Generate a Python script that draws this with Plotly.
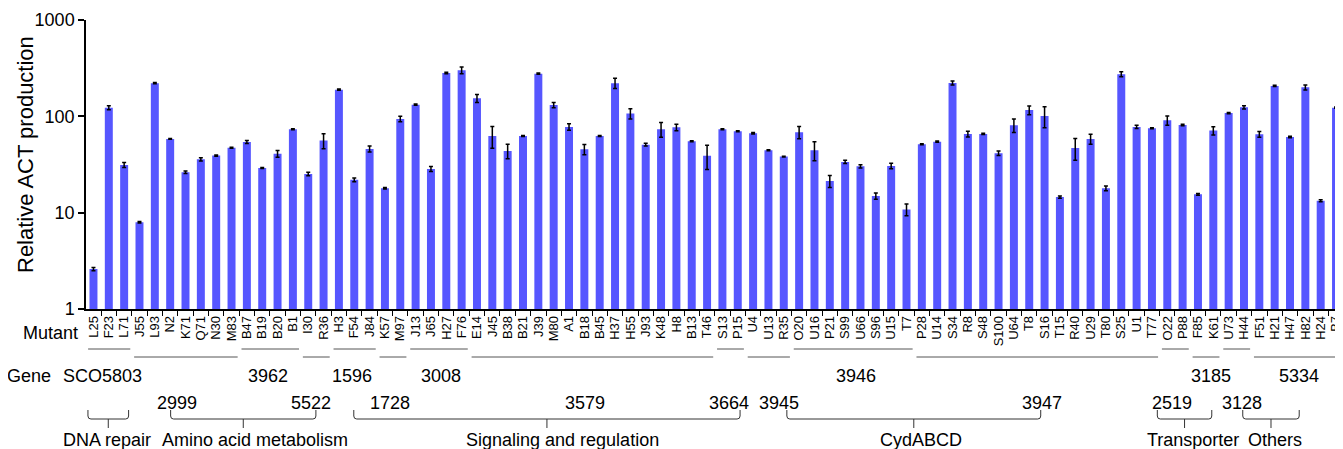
import plotly.graph_objects as go

# ---------------- data ----------------
mutants = ["L25", "F23", "L71", "J55", "L93", "N2", "K71", "Q71", "N30", "M83",
           "B47", "B19", "B20", "B1", "I30", "R36", "H3", "F54", "J84", "K57",
           "M97", "J13", "J65", "H27", "F76", "E14", "J45", "B38", "B21", "J39",
           "M80", "A1", "B18", "B45", "H37", "H55", "J93", "K48", "H8", "B13",
           "T46", "S13", "P15", "U4", "U13", "R35", "O20", "U16", "P21", "S99",
           "U66", "S96", "U15", "T7", "P28", "U14", "S34", "R8", "S48", "S100",
           "U64", "T8", "S16", "T15", "R40", "U29", "T80", "S25", "U1", "T77",
           "O22", "P88", "F85", "K61", "U73", "H44", "F51", "H21", "H47", "H82",
           "H24", "B7"]

production = [2.6, 123, 31.3, 7.95, 221, 58.3, 26.3, 35.8, 39.1, 47.3,
              54.2, 29.1, 41, 73.5, 25.2, 56, 189, 21.9, 45.9, 17.9,
              94, 132, 28.4, 282, 301, 154, 62.6, 43.7, 62.6, 277,
              131, 77.6, 45.5, 62.6, 221, 107, 50.8, 73.5, 77, 55.1,
              39, 73.5, 70, 66.7, 44.5, 38.2, 68.4, 44.5, 21.3, 33.6,
              30.3, 14.9, 30.5, 10.8, 51.3, 54.6, 222, 65.6, 65.6, 41.4,
              80.9, 116, 101, 14.5, 47, 58.3, 17.9, 274, 77.6, 75.2,
              91, 81.4, 15.5, 71.1, 108, 124, 65.2, 207, 61.1, 200,
              13.3, 123]

production_err = [0.1, 6, 1.8, 0.15, 3, 0.5, 0.8, 1.4, 0.6, 0.6,
                  2, 0.3, 3.3, 1, 1.1, 10, 3, 1, 3.3, 0.3,
                  6, 2, 1.7, 5, 24, 15, 16, 7.5, 0.8, 4,
                  8, 6, 5.5, 0.8, 27, 13, 1.6, 13, 6, 0.6,
                  11, 1, 1, 1.2, 0.5, 0.4, 10, 10, 3, 1.3,
                  1.2, 1.1, 2, 1.5, 0.6, 0.8, 10, 4.5, 1, 2.2,
                  13, 12, 25, 0.4, 12, 7, 1, 17, 3, 1,
                  10, 1.5, 0.3, 7, 1.5, 5, 4.5, 3, 1, 12,
                  0.3, 2]

genes = ["SCO5803", "2999", "3962", "5522", "1596", "1728", "3008", "3579",
         "3664", "3945", "3946", "3947", "2519", "3185", "3128", "5334"]
gene_first = ["L25", "J55", "B47", "I30", "H3", "K57", "J13", "E14",
              "S13", "U4", "O20", "P28", "O22", "F85", "U73", "F51"]
gene_last = ["L71", "M83", "B1", "R36", "J84", "M97", "F76", "T46",
             "P15", "R35", "T7", "T77", "P88", "K61", "H44", "B7"]
gene_label_row = [0, 1, 0, 1, 0, 1, 0, 1, 1, 1, 0, 1, 1, 0, 1, 0]

categories = ["DNA repair", "Amino acid metabolism", "Signaling and regulation",
              "CydABCD", "Transporter", "Others"]

# ---------------- layout constants ----------------
FONT = "Liberation Sans, Arial, sans-serif"
PAGE_OFF = 8                      # default page body margin
W, H = 1343, 449                  # window size
ML, MT, MB = 86, 20, 140          # plot-area placement within the window
X_RANGE = [-0.487, 81.063]
PLOT_H = H - MT - MB
PLOT_W = W - ML

# label nudges (pixels) so the texts sit as in the original figure
GENE_LABEL_SHIFT = [-6, -9, -2, -5, -2, -3, 2, -7, -1, 11, 3, 5, -3, 5, 6, 1]
# bracket spans (in category-index units) for the functional categories
BRACKET_SPANS = [(-0.36, 2.29), (5.03, 14.5), (16.97, 42.15),
                 (45.2, 61.75), (69.35, 72.9), (74.92, 78.6)]
CATEGORY_LABEL_SHIFT = [-1, 12, 16, 7, 8, 4]


def px_to_paper_y(py):
    return (H - MB - py) / PLOT_H


def idx_to_paper_x(i):
    return (i - X_RANGE[0]) / (X_RANGE[1] - X_RANGE[0])


fig = go.Figure()
fig.add_trace(go.Bar(
    x=mutants, y=production,
    marker=dict(color="rgb(86,86,255)", line=dict(width=0)),
    width=0.52,
    error_y=dict(type="data", array=production_err, visible=True,
                 color="black", thickness=1.5, width=2),
))

shapes = []
annotations = []

# gene group lines + gene labels
line_y = [px_to_paper_y(349), px_to_paper_y(357)]
label_y = [px_to_paper_y(376), px_to_paper_y(403)]
for k, g in enumerate(genes):
    i0 = mutants.index(gene_first[k])
    i1 = mutants.index(gene_last[k])
    ly = line_y[k % 2]
    shapes.append(dict(type="line", xref="paper", yref="paper",
                       x0=idx_to_paper_x(i0 - 0.35), x1=idx_to_paper_x(i1 + 0.4),
                       y0=ly, y1=ly, line=dict(color="#555555", width=1)))
    annotations.append(dict(xref="x", yref="paper", x=(i0 + i1) / 2,
                            xshift=GENE_LABEL_SHIFT[k],
                            y=label_y[gene_label_row[k]], text=g, showarrow=False,
                            xanchor="center", yanchor="middle",
                            font=dict(size=18, color="black", family=FONT)))

# category brackets (with slightly rounded corners)
yb0, yb1, yb2 = px_to_paper_y(410), px_to_paper_y(419), px_to_paper_y(428)
rx = 3 / PLOT_W * 1.0
ry = 3 / PLOT_H
for k, (name, (a, b)) in enumerate(zip(categories, BRACKET_SPANS)):
    xa, xb = idx_to_paper_x(a), idx_to_paper_x(b)
    xc = (xa + xb) / 2
    path = (f"M {xa},{yb0} L {xa},{yb1 + ry} Q {xa},{yb1} {xa + rx},{yb1} "
            f"L {xb - rx},{yb1} Q {xb},{yb1} {xb},{yb1 + ry} L {xb},{yb0} "
            f"M {xc},{yb1} L {xc},{yb2}")
    shapes.append(dict(type="path", xref="paper", yref="paper", path=path,
                       line=dict(color="#333333", width=1)))
    annotations.append(dict(xref="paper", yref="paper", x=xc,
                            xshift=CATEGORY_LABEL_SHIFT[k],
                            y=px_to_paper_y(440), text=name, showarrow=False,
                            xanchor="center", yanchor="middle",
                            font=dict(size=18, color="black", family=FONT)))

# row headers
annotations.append(dict(xref="paper", yref="paper", x=0, xshift=-6,
                        y=px_to_paper_y(333), text="Mutant", showarrow=False,
                        xanchor="right", yanchor="middle",
                        font=dict(size=18, color="black", family=FONT)))
annotations.append(dict(xref="paper", yref="paper", x=0, xshift=-33,
                        y=px_to_paper_y(376), text="Gene", showarrow=False,
                        xanchor="right", yanchor="middle",
                        font=dict(size=18, color="black", family=FONT)))
# y axis title
annotations.append(dict(xref="paper", yref="paper", x=0, xshift=-61,
                        y=px_to_paper_y(155), text="Relative ACT production",
                        textangle=-90, showarrow=False,
                        xanchor="center", yanchor="middle",
                        font=dict(size=22, color="black", family=FONT)))

fig.update_layout(
    width=W - PAGE_OFF, height=H - PAGE_OFF,
    margin=dict(l=ML - PAGE_OFF, r=0, t=MT - PAGE_OFF, b=MB, pad=0),
    paper_bgcolor="white", plot_bgcolor="white",
    showlegend=False,
    font=dict(family=FONT, color="black"),
    shapes=shapes, annotations=annotations,
)
fig.update_xaxes(
    type="category", range=X_RANGE,
    tickmode="array", tickvals=mutants, ticktext=mutants,
    showline=True, linecolor="black", linewidth=1.5,
    ticks="outside", tickson="boundaries", ticklen=5, tickwidth=1,
    tickcolor="black", tickangle=-90,
    tickfont=dict(size=13, color="black", family=FONT),
    showgrid=False, zeroline=False,
)
fig.update_yaxes(
    type="log", range=[0, 3],
    tickvals=[1, 10, 100, 1000], ticktext=["1", "10", "100", "1000"],
    showline=True, linecolor="black", linewidth=1.5,
    ticks="outside", ticklen=6, tickwidth=1.5, tickcolor="black",
    tickfont=dict(size=18, color="black", family=FONT),
    showgrid=False, zeroline=False,
)

fig.write_html("out.html")
